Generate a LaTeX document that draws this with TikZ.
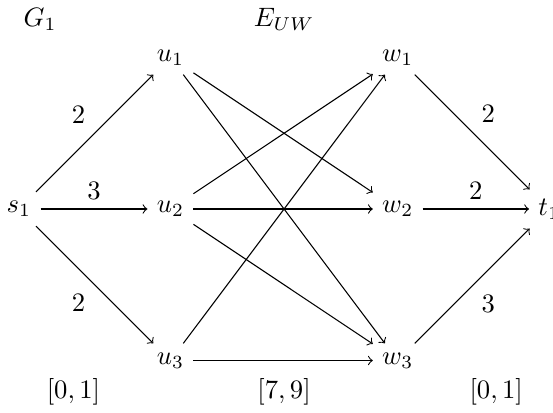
\documentclass[tikz,border=0pt]{standalone}
\begin{document}
\begin{tikzpicture}[
    edge/.style={->},
    wgt/.style={font=\normalsize}
]
\useasboundingbox (-0.25,-2.68) rectangle (7.05,2.759);

% vertices
\node (s1) at (0,0) {$s_1$};
\node (u1) at (2,2) {$u_1$};
\node (u2) at (2,0) {$u_2$};
\node (u3) at (2,-2) {$u_3$};
\node (w1) at (5,2) {$w_1$};
\node (w2) at (5,0) {$w_2$};
\node (w3) at (5,-2) {$w_3$};
\node (t1) at (7,0) {$t_1$};

% titles
\node (g1) at (0.28,2.5) {$G_1$};
\node (euw) at (3.5,2.5) {$E_{UW}$};

% intervals
\node (i1) at (0.72,-2.42) {$[0,1]$};
\node (i2) at (3.5,-2.42) {$[7,9]$};
\node (i3) at (6.3,-2.42) {$[0,1]$};

% source edges
\draw[edge] (s1) -- node[above left,wgt] {$2$} (u1);
\draw[edge] (s1) -- node[above,wgt] {$3$} (u2);
\draw[edge] (s1) -- node[below left,wgt] {$2$} (u3);

% middle edges
\draw[edge] (u1) -- (w2);
\draw[edge] (u1) -- (w3);
\draw[edge] (u2) -- (w1);
\draw[edge] (u2) -- (w2);
\draw[edge] (u2) -- (w3);
\draw[edge] (u3) -- (w1);
\draw[edge] (u3) -- (w3);

% sink edges
\draw[edge] (w1) -- node[above right,wgt] {$2$} (t1);
\draw[edge] (w2) -- node[above,wgt] {$2$} (t1);
\draw[edge] (w3) -- node[below right,wgt] {$3$} (t1);

\end{tikzpicture}
\end{document}
